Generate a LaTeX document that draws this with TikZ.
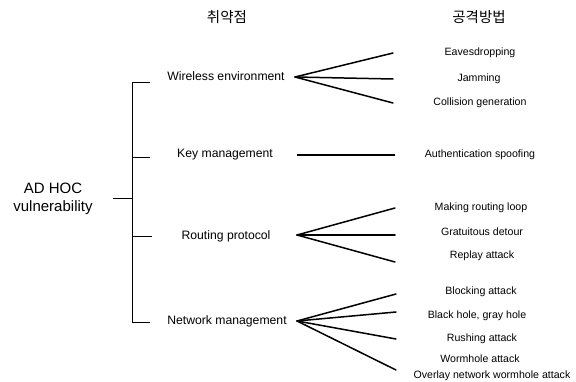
\documentclass[tikz,border=0pt]{standalone}
\usepackage{fontspec}
\setmainfont{Liberation Sans}
\newfontfamily\kor{Noto Sans CJK KR}
\begin{document}
\begin{tikzpicture}[x=1pt,y=-1pt,
  head/.style={font=\kor\fontsize{14.5}{16}\selectfont, inner sep=0pt},
  root/.style={font=\fontsize{15}{18}\selectfont, align=center, inner sep=0pt},
  cat/.style={font=\fontsize{12.2}{14}\selectfont, inner sep=0pt},
  atk/.style={font=\fontsize{10.6}{12}\selectfont, inner sep=0pt, align=center},
  fan/.style={line width=1.5pt, line cap=round},
  brk/.style={line width=0.8pt}]
\useasboundingbox (0,0) rectangle (576,382);
% headers
\node[head] (h1) at (227,17) {취약점};
\node[head] (h2) at (479,17) {공격방법};
% root
\node[root] (root) at (53,199) {AD HOC\\vulnerability};
% categories
\node[cat] (c1) at (226,76) {Wireless environment};
\node[cat] (c2) at (225,155) {Key management};
\node[cat] (c3) at (226,236) {Routing protocol};
\node[cat] (c4) at (227,321) {Network management};
% bracket
\coordinate (bt) at (132,82);
\coordinate (bb) at (132,322);
\coordinate (rt) at (113,198);
\coordinate (r0) at (132,198);
\coordinate (t1) at (150,82);
\coordinate (k0) at (132,157);
\coordinate (t2) at (150,157);
\coordinate (p0) at (132,236);
\coordinate (t3) at (152,236);
\coordinate (t4) at (150,322);
\draw[brk] (t1) -- (bt) -- (bb) -- (t4);
\draw[brk] (rt) -- (r0);
\draw[brk] (k0) -- (t2);
\draw[brk] (p0) -- (t3);
% attacks
\node[atk] (a1) at (480,53) {Eavesdropping};
\node[atk] (a2) at (479,79) {Jamming};
\node[atk] (a3) at (480,103) {Collision generation};
\node[atk] (a4) at (480,155) {Authentication spoofing};
\node[atk] (a5) at (481,208) {Making routing loop};
\node[atk] (a6) at (482,232) {Gratuitous detour};
\node[atk] (a7) at (482,256) {Replay attack};
\node[atk] (a8) at (481,292) {Blocking attack};
\node[atk] (a9) at (477,316) {Black hole, gray hole};
\node[atk] (a10) at (482,339) {Rushing attack};
\node[atk] (a11) at (480,359) {Wormhole attack};
\node[atk] (a12) at (492,376) {Overlay network wormhole attack};
% fan apexes and ends
\coordinate (f1) at (295,77);
\coordinate (e1) at (393,53);
\coordinate (e2) at (393,79);
\coordinate (e3) at (393,103);
\coordinate (f2) at (297,155);
\coordinate (e4) at (395,155);
\coordinate (f3) at (297,235);
\coordinate (e5) at (395,208);
\coordinate (e6) at (395,235);
\coordinate (e7) at (395,262);
\coordinate (f4) at (297,321);
\coordinate (e8) at (396,294);
\coordinate (e9) at (396,312);
\coordinate (e10) at (396,339);
\coordinate (e11) at (396,370);
\draw[fan] (f1) -- (e1); \draw[fan] (f1) -- (e2); \draw[fan] (f1) -- (e3);
\draw[line width=1.1pt] (f2) -- (e4);
\draw[fan] (f3) -- (e5); \draw[fan] (f3) -- (e6); \draw[fan] (f3) -- (e7);
\draw[fan] (f4) -- (e8); \draw[fan] (f4) -- (e9); \draw[fan] (f4) -- (e10); \draw[fan] (f4) -- (e11);
\end{tikzpicture}
\end{document}
